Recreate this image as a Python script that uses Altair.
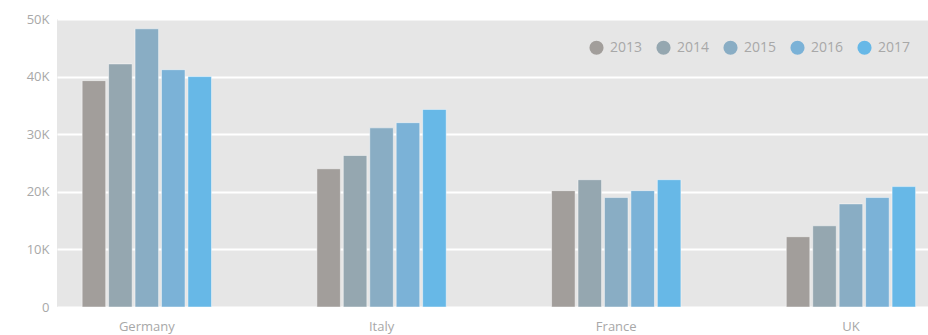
import altair as alt
import pandas as pd

countries = ["Germany", "Italy", "France", "UK"]
years = ["2013", "2014", "2015", "2016", "2017"]
germany = [39300, 42200, 48300, 41200, 40000]
italy = [24000, 26300, 31100, 32000, 34300]
france = [20200, 22100, 19000, 20200, 22100]
uk = [12200, 14100, 17900, 19000, 20900]
colors = ["#a29e9b", "#95a7b0", "#89adc4", "#7bb2d7", "#67b8e7"]
y_ticks = [0, 10000, 20000, 30000, 40000, 50000]

rows = []
for c, vals in zip(countries, [germany, italy, france, uk]):
    for y, v in zip(years, vals):
        rows.append({"country": c, "year": y, "value": v})
df = pd.DataFrame(rows)

FONT = "Open Sans"
GREY = "#a8a8a8"

chart = alt.Chart(df).mark_bar(
    stroke="white", strokeOpacity=0.45, strokeWidth=1
).encode(
    x=alt.X("country:N", sort=countries, title=None,
            scale=alt.Scale(paddingInner=0.449, paddingOuter=0.08, align=0.67),
            axis=alt.Axis(labelAngle=0, ticks=False, domain=False, labelPadding=13,
                          labelFontSize=13, labelColor=GREY, labelFont=FONT, grid=False)),
    xOffset=alt.XOffset("year:N", sort=years,
                        scale=alt.Scale(paddingInner=0.11, paddingOuter=0)),
    y=alt.Y("value:Q", title=None,
            scale=alt.Scale(domain=[0, 50000], nice=False),
            axis=alt.Axis(values=y_ticks, ticks=False, domain=False, labelPadding=8,
                          labelFontSize=13, labelColor=GREY, labelFont=FONT,
                          gridColor="white", gridWidth=2,
                          labelExpr="datum.value == 0 ? '0' : (datum.value/1000) + 'K'")),
    color=alt.Color("year:N", sort=years,
                    scale=alt.Scale(domain=years, range=colors),
                    legend=alt.Legend(title=None, orient="none", direction="horizontal",
                                      legendX=532, legendY=21, symbolType="circle",
                                      symbolSize=200, symbolOpacity=1, symbolStrokeWidth=0,
                                      labelFontSize=14, labelColor=GREY, labelFont=FONT,
                                      labelOffset=6, columnPadding=13)),
).properties(
    width=871, height=288,
    padding={"left": 57, "top": 19, "right": 0, "bottom": 28},
    autosize=alt.AutoSizeParams(type="none"),
    background="white",
).configure_view(
    fill="#e6e6e6", stroke=None
)

chart.save("out.html", embed_options={"renderer": "svg", "actions": False})
